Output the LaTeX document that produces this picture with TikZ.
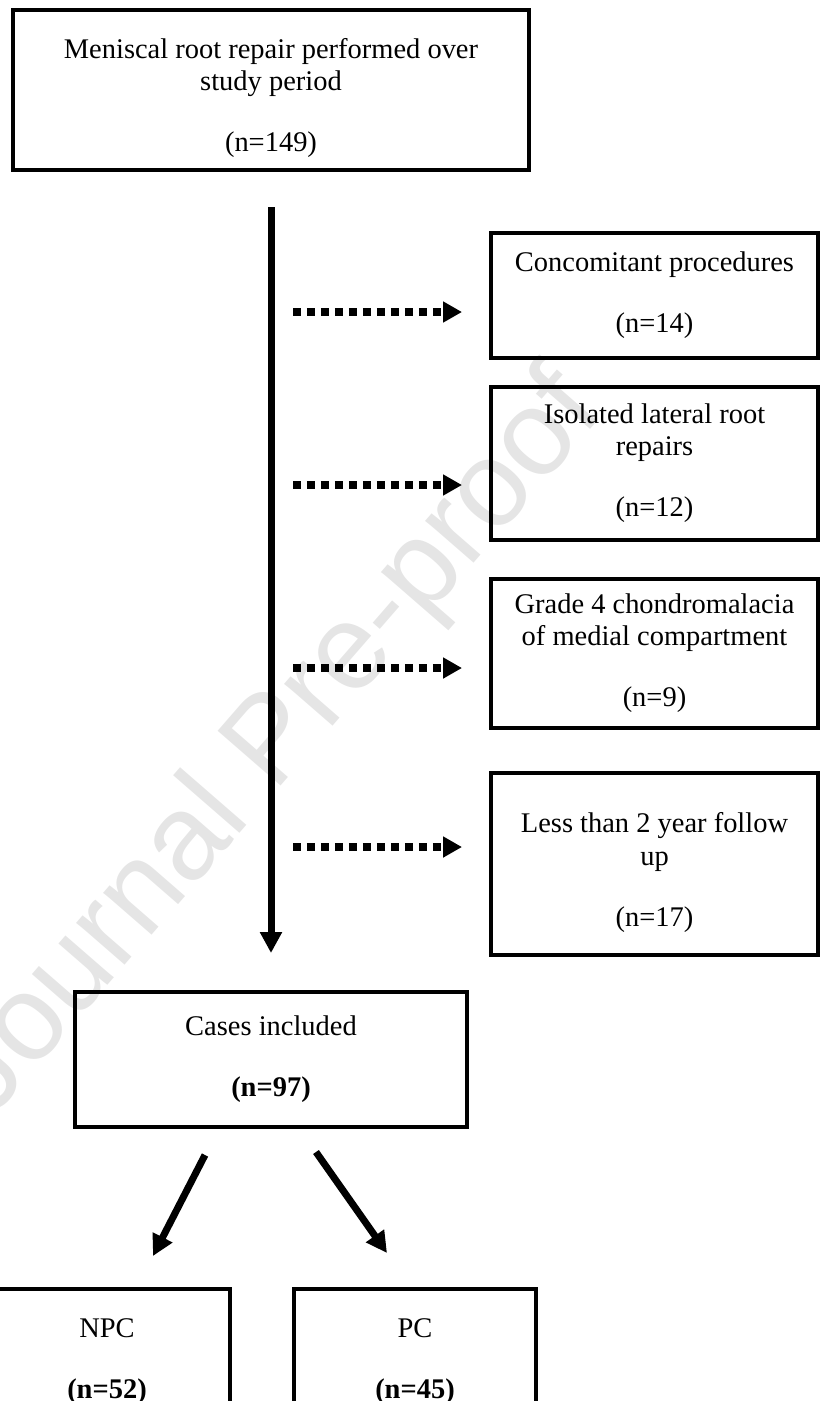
\documentclass[tikz,border=0pt]{standalone}
\usepackage{fontspec}
\setmainfont{Liberation Serif}
\setsansfont{Liberation Sans}
\usepackage{tikz}
\usetikzlibrary{arrows.meta}
\newlength{\pxl}
\setlength{\pxl}{0.02cm}

\begin{document}
\begin{tikzpicture}[x=\pxl,y=-\pxl,
	font=\fontsize{16.2}{18.3}\selectfont,
	every node/.style={align=center,inner sep=0pt},
	stage/.style={draw,line width=4\pxl},
	exclude/.style={draw,line width=4\pxl,minimum width=327\pxl},
	flow/.style={line width=0.14cm,-{Triangle[length=0.42cm,width=0.42cm]}},
	drop/.style={line width=0.15cm,dash pattern=on 0.16cm off 0.12cm,-{Triangle[length=0.38cm,width=0.4cm]}}]
	\useasboundingbox (0,0) rectangle (820,1401);
	%
	\node[rotate=49,text=black!10,font=\sffamily\fontsize{69}{69}\selectfont] (mark) at (275,745) {Journal Pre-proof};
	%
	\node[stage,minimum width=516\pxl,minimum height=160\pxl] (root) at (271,90) {\rule{0pt}{1.25em}Meniscal root repair performed over\\study period\\[0.9\baselineskip](n=149)};
	\node[exclude,minimum height=125\pxl] (conc) at (654.5,295.5) {Concomitant procedures\\[0.9\baselineskip](n=14)};
	\node[exclude,minimum height=153\pxl] (lat) at (654.5,463.5) {Isolated lateral root\\repairs\\[0.9\baselineskip](n=12)};
	\node[exclude,minimum height=149\pxl] (chon) at (654.5,653.5) {Grade 4 chondromalacia\\of medial compartment\\[0.9\baselineskip](n=9)};
	\node[exclude,minimum height=182\pxl] (fup) at (654.5,864) {\rule{0pt}{1.3em}Less than 2 year follow\\up\\[0.9\baselineskip](n=17)};
	\node[stage,minimum width=392\pxl,minimum height=135\pxl] (incl) at (271,1059.5) {Cases included\\[0.9\baselineskip]\textbf{(n=97)}};
	\node[stage,minimum width=246\pxl,minimum height=146\pxl] (npc) at (107,1362) {NPC\\[0.9\baselineskip]\textbf{(n=52)}};
	\node[stage,minimum width=242\pxl,minimum height=146\pxl] (pc) at (415,1362) {PC\\[0.9\baselineskip]\textbf{(n=45)}};
	%
	\draw[flow,shorten <=0.7cm,shorten >=0.74cm] (root.south) -- (incl.north);
	%
	\coordinate (d1) at (293,312);
	\coordinate (d2) at (293,485);
	\coordinate (d3) at (293,668);
	\coordinate (d4) at (293,847);
	\draw[drop,shorten >=0.54cm] (d1) -- (d1 -| conc.west);
	\draw[drop,shorten >=0.54cm] (d2) -- (d2 -| lat.west);
	\draw[drop,shorten >=0.54cm] (d3) -- (d3 -| chon.west);
	\draw[drop,shorten >=0.54cm] (d4) -- (d4 -| fup.west);
	%
	\coordinate (l0) at (205,1155);
	\coordinate (l1) at (153,1256);
	\coordinate (r0) at (316,1152);
	\coordinate (r1) at (387,1253);
	\draw[flow] (l0) -- (l1);
	\draw[flow] (r0) -- (r1);
\end{tikzpicture}
\end{document}
